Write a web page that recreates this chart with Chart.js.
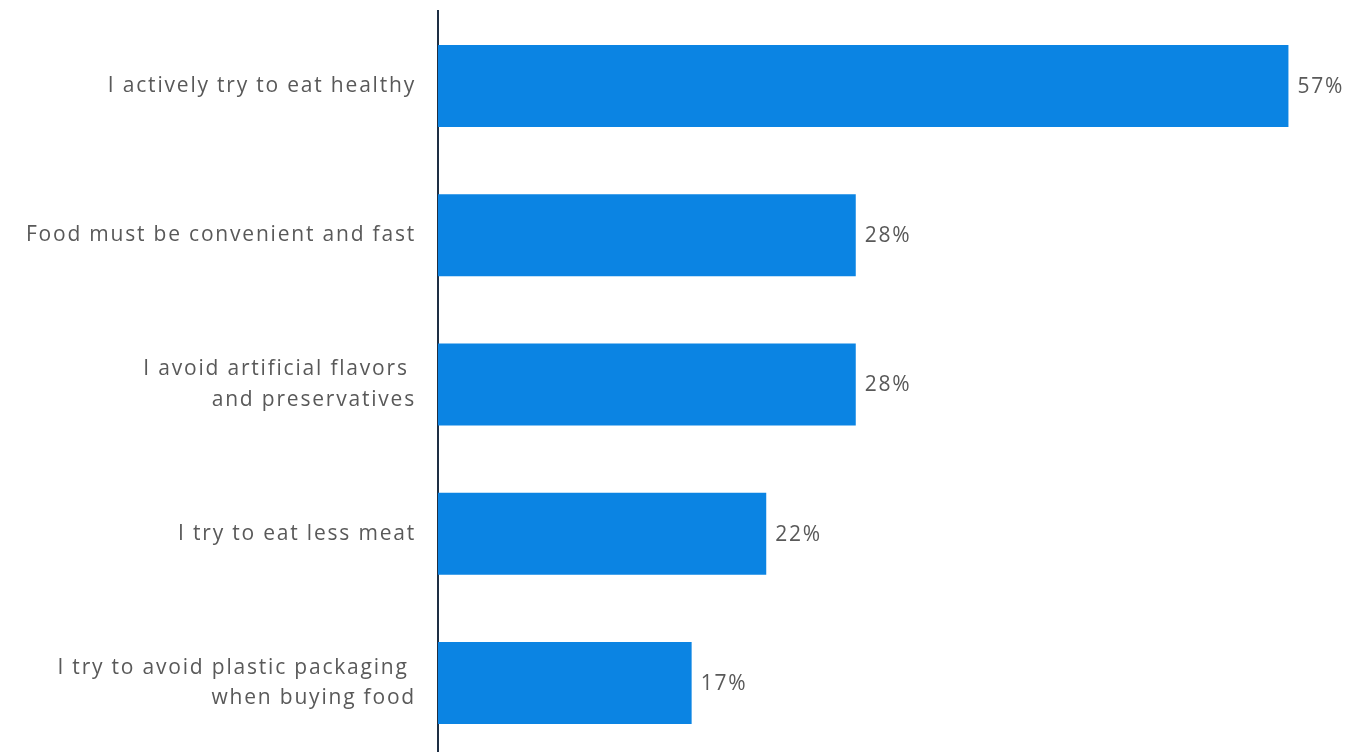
<!DOCTYPE html>
<html lang="en">
<head>
    <meta charset="UTF-8">
    <title>Food attitudes</title>
    <script src="https://cdn.jsdelivr.net/npm/chart.js"></script>
    <style>
        html, body { margin: 0; padding: 0; background: #ffffff; overflow: hidden; }
        #grafico { display: block; }
    </style>
</head>
<body>
    <canvas id="grafico" width="1348" height="760"></canvas>
</body>
</html>
<script>
    // categorias (o espaço no fim da 1a linha empurra o texto como no original)
    const categorias = [
        'I actively try to eat healthy',
        'Food must be convenient and fast',
        ['I avoid artificial flavors ', 'and preservatives'],
        'I try to eat less meat',
        ['I try to avoid plastic packaging ', 'when buying food']
    ]
    const valores = [57, 28, 28, 22, 17]
    const eixoMax = 60

    const corBarra = '#0b84e3'
    const corTexto = '#595959'
    const fonte = 21

    // escreve "xx%" logo depois de cada barra
    const rotulos = {
        id: 'rotulos',
        afterDatasetsDraw(chart) {
            const ctx = chart.ctx
            const meta = chart.getDatasetMeta(0)
            ctx.save()
            ctx.font = `${fonte}px "Open Sans"`
            ctx.fillStyle = corTexto
            ctx.textAlign = 'left'
            ctx.textBaseline = 'middle'
            meta.data.forEach((barra, i) => {
                ctx.fillText(valores[i] + '%', barra.x + 9, barra.y + 1)
            })
            ctx.restore()
        }
    }

    const espacamento = {
        id: 'espacamento',
        beforeDraw(chart) {
            chart.ctx.letterSpacing = '1.8px'
        }
    }

    const grafico = new Chart(document.getElementById('grafico'), {
        type: 'bar',
        data: {
            labels: categorias,
            datasets: [{
                data: valores,
                backgroundColor: corBarra,
                borderWidth: 0,
                barPercentage: 0.55,
                categoryPercentage: 1
            }]
        },
        options: {
            indexAxis: 'y',
            responsive: false,
            animation: false,
            layout: {
                padding: { top: 11.4, bottom: 2.4, right: 14.8, left: 0 }
            },
            plugins: {
                legend: { display: false },
                tooltip: { enabled: false }
            },
            scales: {
                x: {
                    display: false,
                    min: 0,
                    max: eixoMax
                },
                y: {
                    afterFit(scale) {
                        scale.width = 438
                        scale.paddingTop = 0
                        scale.paddingBottom = 0
                    },
                    grid: { display: false },
                    border: { display: true, color: '#1e2f44', width: 2 },
                    ticks: {
                        color: corTexto,
                        padding: 14,
                        font: { family: 'Open Sans', size: fonte, lineHeight: 1.45 }
                    }
                }
            }
        },
        plugins: [espacamento, rotulos]
    })
</script>
